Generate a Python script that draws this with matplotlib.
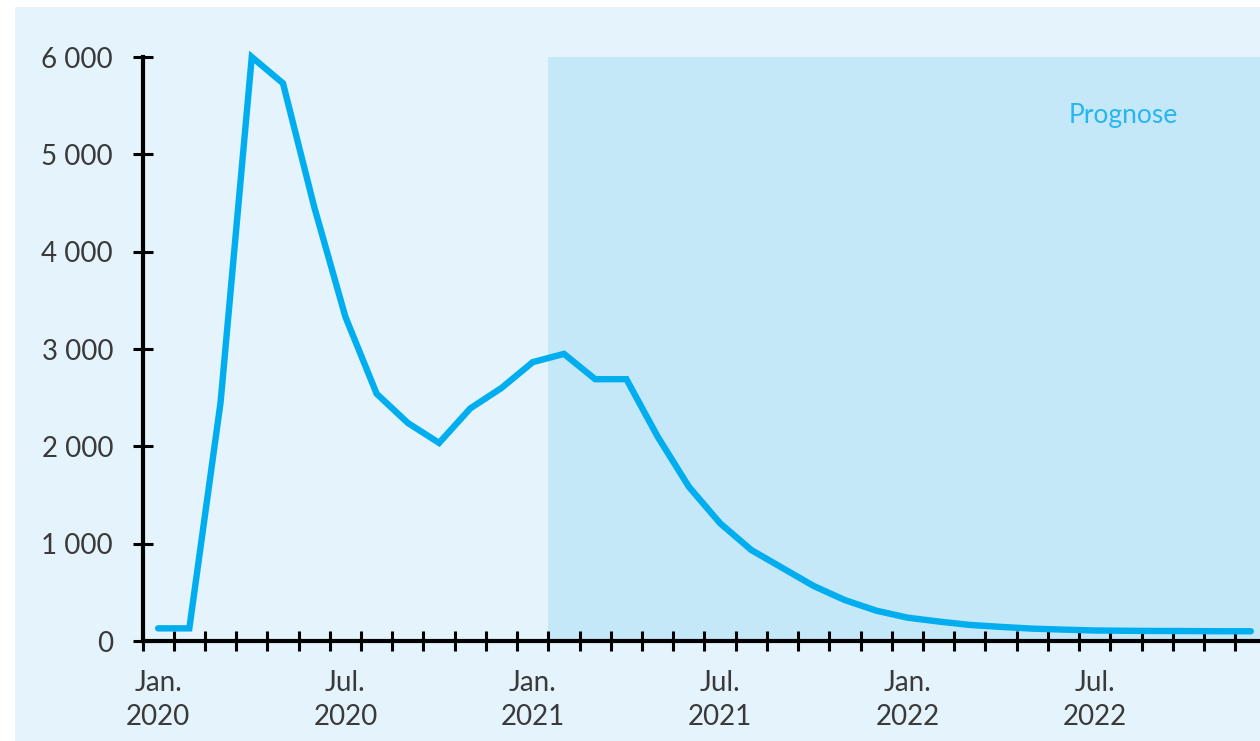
import matplotlib
matplotlib.use("Agg")
import matplotlib.pyplot as plt
from matplotlib.patches import Rectangle
import numpy as np

plt.rcParams['font.family'] = ['Lato', 'DejaVu Sans']

# Monthly values, Jan 2020 - Dec 2022
months = ["2020-01", "2020-02", "2020-03", "2020-04", "2020-05", "2020-06",
          "2020-07", "2020-08", "2020-09", "2020-10", "2020-11", "2020-12",
          "2021-01", "2021-02", "2021-03", "2021-04", "2021-05", "2021-06",
          "2021-07", "2021-08", "2021-09", "2021-10", "2021-11", "2021-12",
          "2022-01", "2022-02", "2022-03", "2022-04", "2022-05", "2022-06",
          "2022-07", "2022-08", "2022-09", "2022-10", "2022-11", "2022-12"]
values = [130, 130, 2450, 6000, 5730, 4460,
          3330, 2540, 2240, 2035, 2390, 2600,
          2865, 2950, 2690, 2690, 2100, 1585,
          1210, 935, 750, 565, 420, 312,
          240, 200, 165, 145, 127, 117,
          108, 105, 103, 102, 100, 100]
forecast_start = 13  # index of first forecast month (Feb 2021)

x_labels = ["Jan.\n2020", "Jul.\n2020", "Jan.\n2021", "Jul.\n2021", "Jan.\n2022", "Jul.\n2022"]
label_months = [0, 6, 12, 18, 24, 30]
y_ticks = [0, 1000, 2000, 3000, 4000, 5000, 6000]
y_ticklabels = ["0", "1 000", "2 000", "3 000", "4 000", "5 000", "6 000"]
forecast_label = "Prognose"

BG = "#e5f4fc"
SHADE = "#c5e8f8"
LINE = "#00aeef"
TEXT = "#3a3a3a"

W, H = 1260, 741
fig = plt.figure(figsize=(W / 100, H / 100), dpi=100)
fig.patch.set_facecolor("white")
bg = Rectangle((15 / W, 0), 1, 1 - 7 / H, transform=fig.transFigure,
               facecolor=BG, edgecolor="none", zorder=-10)
fig.add_artist(bg)

ax = fig.add_axes([142.5 / W, 100 / H, 36 * 31.22 / W, 584 / H])
ax.set_facecolor("none")
ax.set_zorder(1)

n = len(values)
xs = np.arange(n) + 0.5
ax.set_xlim(0, n)
ax.set_ylim(0, 6000)

# forecast period shading
ax.axvspan(forecast_start, n, ymin=0, ymax=1, facecolor=SHADE, edgecolor="none", zorder=1)
ax.text(31.4, 5400, forecast_label, color="#29b6f0", fontsize=19,
        ha="center", va="center", zorder=3)

ax.plot(xs, values, color=LINE, lw=4.6, solid_capstyle="round",
        solid_joinstyle="miter", zorder=4, clip_on=False)

for s in ["top", "right"]:
    ax.spines[s].set_visible(False)
for s in ["left", "bottom"]:
    ax.spines[s].set_linewidth(3)
    ax.spines[s].set_color("black")
    ax.spines[s].set_zorder(5)

ax.set_yticks(y_ticks)
ax.set_yticklabels(y_ticklabels)
ax.tick_params(axis="y", direction="inout", length=14.4, width=2.2, pad=14,
               labelsize=20, labelcolor=TEXT)

# month boundaries as ticks, labels centred in the month
ax.set_xticks(np.arange(0, n + 1))
ax.set_xticklabels([])
ax.set_xticks(np.array(label_months) + 0.5, minor=True)
ax.set_xticklabels(x_labels, minor=True, linespacing=1.38)
ax.tick_params(axis="x", which="major", direction="inout", length=14.4, width=2.2)
ax.tick_params(axis="x", which="minor", length=0, pad=21, labelsize=20, labelcolor=TEXT)

fig.savefig("out.png", dpi=100, facecolor=fig.get_facecolor())
